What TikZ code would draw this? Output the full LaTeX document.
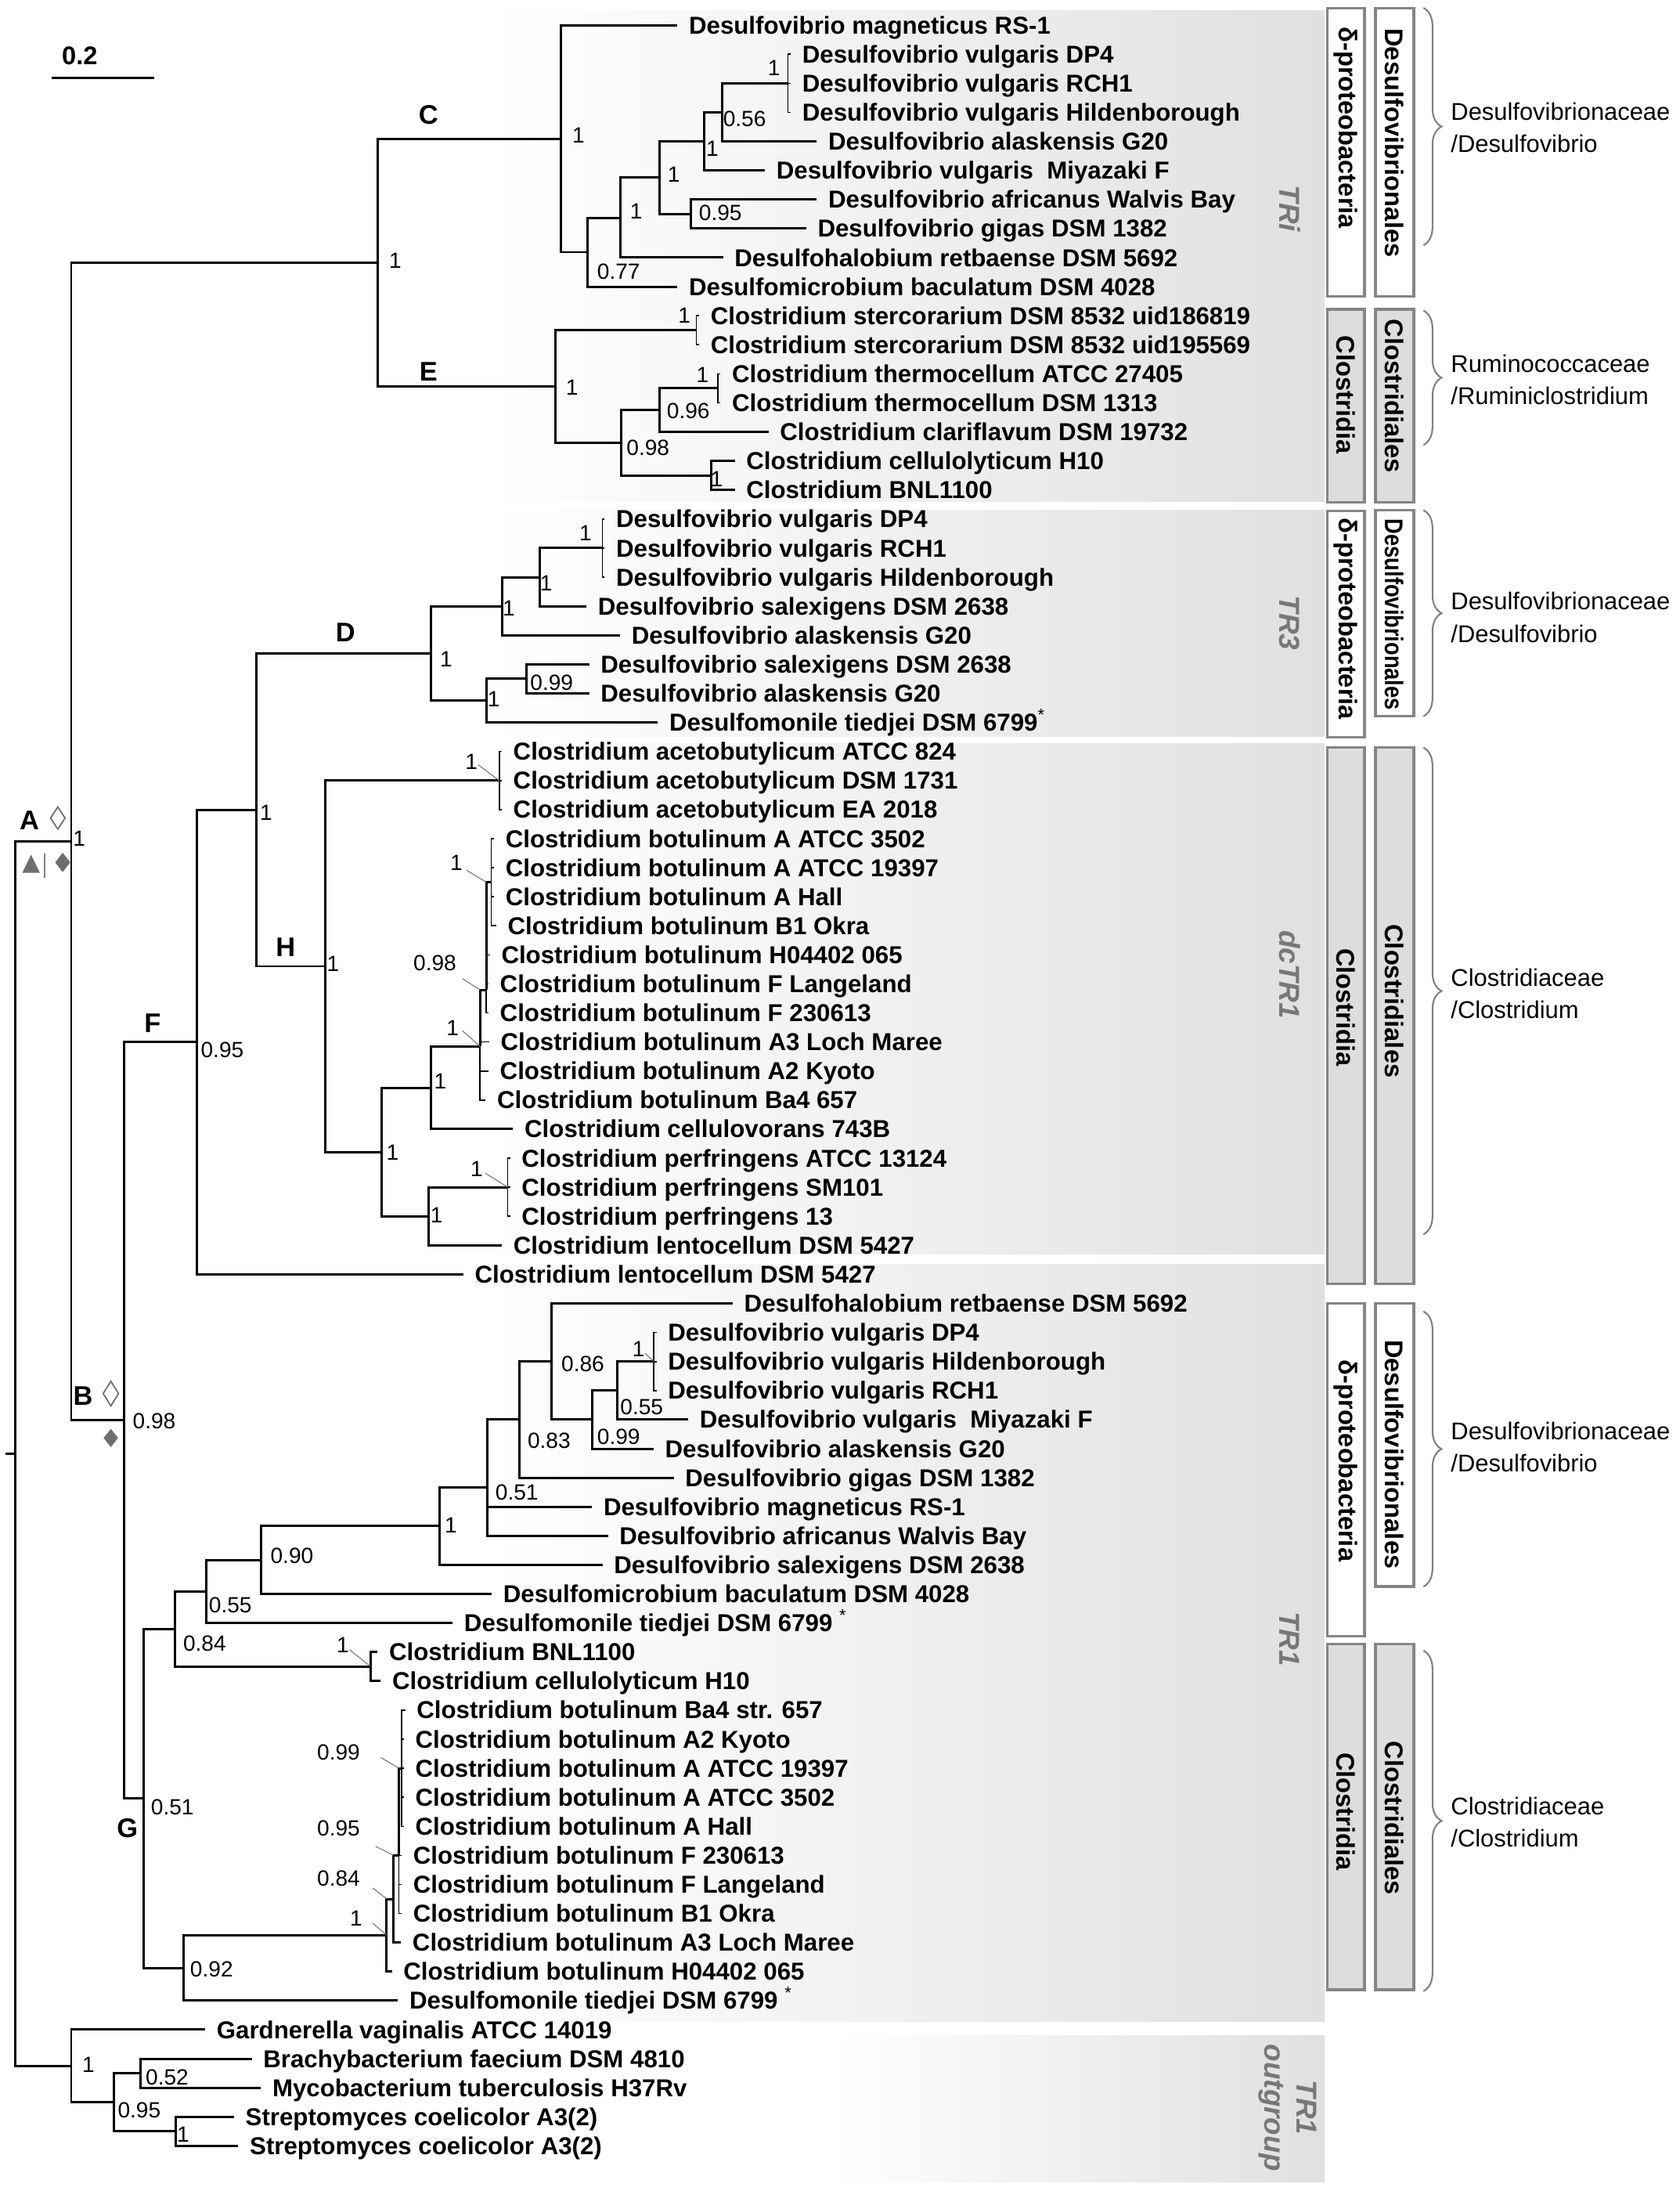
\documentclass[tikz,border=0pt]{standalone}
\usepackage{graphicx}
\usepackage{fontspec}
\setmainfont{Liberation Sans}
\usetikzlibrary{decorations.pathreplacing}
\definecolor{panelgray}{HTML}{E0E0E0}
\definecolor{boxgray}{HTML}{858585}
\definecolor{boxfill}{HTML}{DDDDDD}
\definecolor{trgray}{HTML}{777777}
\definecolor{markgray}{HTML}{6E6E6E}
\tikzset{
	leaf/.style={anchor=west, inner xsep=4pt, inner ysep=0pt, text height=6.3pt, text depth=0pt, font=\fontsize{8.9}{10}\selectfont\bfseries},
	supp/.style={inner sep=0pt, font=\fontsize{8}{9}\selectfont},
	clade/.style={inner sep=0pt, font=\fontsize{9.8}{11}\selectfont\bfseries},
	branch/.style={line width=0.85pt},
	twig/.style={line width=0.45pt},
	leader/.style={line width=0.3pt, draw=black!55},
	panel/.style={left color=white, right color=panelgray},
	trlabel/.style={rotate=-90, inner sep=0pt, text=trgray, align=center, font=\fontsize{10.5}{11.7}\selectfont\bfseries\itshape},
	taxbox/.style={draw=boxgray, line width=1pt},
	taxtext/.style={rotate=-90, inner sep=0pt, font=\fontsize{9.3}{11}\selectfont\bfseries},
	famtext/.style={anchor=west, inner sep=0pt, align=left, font=\fontsize{8.8}{11.7}\selectfont},
	grpbrace/.style={draw=gray, line width=0.6pt, decorate, decoration={brace, amplitude=6.6pt}}
}

\begin{document}
\begin{tikzpicture}[x=0.0179cm, y=-0.0179cm]
	\useasboundingbox (0,0) rectangle (1200.3,1565);
	
	% shaded panels
	\shade[panel] (350,7.5) rectangle (946.3,358);
	\shade[panel] (350,364.4) rectangle (946.3,526);
	\shade[panel] (350,531.2) rectangle (946.3,895.7);
	\shade[panel] (350,903.1) rectangle (946.3,1444);
	\shade[panel] (593,1453.9) rectangle (946.3,1558.3);
	
	\node[trlabel] (tTRi) at (921.5,149) {TRi};
	\node[trlabel] (tTR3) at (921.5,444.9) {TR3};
	\node[trlabel] (tdcTR1) at (921.5,696.2) {dcTR1};
	\node[trlabel] (tTR1) at (921.5,1170.6) {TR1};
	\node[trlabel] (tOut) at (920,1505.5) {TR1\\outgroup};
	
	% scale bar
	\coordinate (sbL) at (36.7,55.9);
	\coordinate (sbR) at (110.2,55.9);
	\draw[branch] (sbL) -- (sbR);
	\node[clade, font=\fontsize{9.3}{11}\selectfont\bfseries] (sbT) at (57,40) {0.2};
	
	% leaves
	\node[leaf] (l1) at (484,18) {Desulfovibrio magneticus RS-1};
	\node[leaf] (l2) at (565,38.75) {Desulfovibrio vulgaris DP4};
	\node[leaf] (l3) at (565,59.5) {Desulfovibrio vulgaris RCH1};
	\node[leaf] (l4) at (565,80.25) {Desulfovibrio vulgaris Hildenborough};
	\node[leaf] (l5) at (583.6,101) {Desulfovibrio alaskensis G20};
	\node[leaf] (l6) at (546.5,121.75) {Desulfovibrio vulgaris~ Miyazaki F};
	\node[leaf] (l7) at (583.6,142.5) {Desulfovibrio africanus Walvis Bay};
	\node[leaf] (l8) at (576,163.25) {Desulfovibrio gigas DSM 1382};
	\node[leaf] (l9) at (516.6,184) {Desulfohalobium retbaense DSM 5692};
	\node[leaf] (l10) at (484,204.75) {Desulfomicrobium baculatum DSM 4028};
	\node[leaf] (l11) at (499.5,225.5) {Clostridium stercorarium DSM 8532 uid186819};
	\node[leaf] (l12) at (499.5,246.25) {Clostridium stercorarium DSM 8532 uid195569};
	\node[leaf] (l13) at (514.8,267) {Clostridium thermocellum ATCC 27405};
	\node[leaf] (l14) at (514.8,287.75) {Clostridium thermocellum DSM 1313};
	\node[leaf] (l15) at (549,308.5) {Clostridium clariflavum DSM 19732};
	\node[leaf] (l16) at (525,329.25) {Clostridium cellulolyticum H10};
	\node[leaf] (l17) at (525,350) {Clostridium BNL1100};
	
	\node[leaf] (l18) at (432,370.75) {Desulfovibrio vulgaris DP4};
	\node[leaf] (l19) at (432,391.5) {Desulfovibrio vulgaris RCH1};
	\node[leaf] (l20) at (432,412.25) {Desulfovibrio vulgaris Hildenborough};
	\node[leaf] (l21) at (419,433) {Desulfovibrio salexigens DSM 2638};
	\node[leaf] (l22) at (443,453.75) {Desulfovibrio alaskensis G20};
	\node[leaf] (l23) at (421,474.5) {Desulfovibrio salexigens DSM 2638};
	\node[leaf] (l24) at (421,495.25) {Desulfovibrio alaskensis G20};
	\node[leaf] (l25) at (470,516) {Desulfomonile tiedjei DSM 6799\textsuperscript{\mdseries *}};
	
	\node[leaf] (l26) at (358.5,536.75) {Clostridium acetobutylicum ATCC 824};
	\node[leaf] (l27) at (358.5,557.5) {Clostridium acetobutylicum DSM 1731};
	\node[leaf] (l28) at (358.5,578.25) {Clostridium acetobutylicum EA 2018};
	\node[leaf] (l29) at (353,599) {Clostridium botulinum A ATCC 3502};
	\node[leaf] (l30) at (353,619.75) {Clostridium botulinum A ATCC 19397};
	\node[leaf] (l31) at (353,640.5) {Clostridium botulinum A Hall};
	\node[leaf] (l32) at (354.5,661.25) {Clostridium botulinum B1 Okra};
	\node[leaf] (l33) at (350,682) {Clostridium botulinum H04402 065};
	\node[leaf] (l34) at (349,702.75) {Clostridium botulinum F Langeland};
	\node[leaf] (l35) at (349,723.5) {Clostridium botulinum F 230613};
	\node[leaf] (l36) at (349.5,744.25) {Clostridium botulinum A3 Loch Maree};
	\node[leaf] (l37) at (349,765) {Clostridium botulinum A2 Kyoto};
	\node[leaf] (l38) at (347,785.75) {Clostridium botulinum Ba4 657};
	\node[leaf] (l39) at (366.6,806.5) {Clostridium cellulovorans 743B};
	\node[leaf] (l40) at (364.5,827.25) {Clostridium perfringens ATCC 13124};
	\node[leaf] (l41) at (364.5,848) {Clostridium perfringens SM101};
	\node[leaf] (l42) at (364.5,868.75) {Clostridium perfringens 13};
	\node[leaf] (l43) at (358.6,889.5) {Clostridium lentocellum DSM 5427};
	\node[leaf] (l44) at (331,910.25) {Clostridium lentocellum DSM 5427};
	
	\node[leaf] (l45) at (523.5,931) {Desulfohalobium retbaense DSM 5692};
	\node[leaf] (l46) at (469,951.75) {Desulfovibrio vulgaris DP4};
	\node[leaf] (l47) at (469,972.5) {Desulfovibrio vulgaris Hildenborough};
	\node[leaf] (l48) at (469,993.25) {Desulfovibrio vulgaris RCH1};
	\node[leaf] (l49) at (491.7,1014) {Desulfovibrio vulgaris~ Miyazaki F};
	\node[leaf] (l50) at (467,1034.75) {Desulfovibrio alaskensis G20};
	\node[leaf] (l51) at (481.4,1055.5) {Desulfovibrio gigas DSM 1382};
	\node[leaf] (l52) at (423,1076.25) {Desulfovibrio magneticus RS-1};
	\node[leaf] (l53) at (434.4,1097) {Desulfovibrio africanus Walvis Bay};
	\node[leaf] (l54) at (430.5,1117.75) {Desulfovibrio salexigens DSM 2638};
	\node[leaf] (l55) at (351.3,1138.5) {Desulfomicrobium baculatum DSM 4028};
	\node[leaf] (l56) at (323.4,1159.25) {Desulfomonile tiedjei DSM 6799 \textsuperscript{\mdseries *}};
	\node[leaf] (l57) at (269.8,1180) {Clostridium BNL1100};
	\node[leaf] (l58) at (272,1200.75) {Clostridium cellulolyticum H10};
	\node[leaf] (l59) at (289.5,1221.5) {Clostridium botulinum Ba4 str. 657};
	\node[leaf] (l60) at (288.5,1242.25) {Clostridium botulinum A2 Kyoto};
	\node[leaf] (l61) at (288.5,1263) {Clostridium botulinum A ATCC 19397};
	\node[leaf] (l62) at (288.5,1283.75) {Clostridium botulinum A ATCC 3502};
	\node[leaf] (l63) at (288.5,1304.5) {Clostridium botulinum A Hall};
	\node[leaf] (l64) at (287,1325.25) {Clostridium botulinum F 230613};
	\node[leaf] (l65) at (287,1346) {Clostridium botulinum F Langeland};
	\node[leaf] (l66) at (287,1366.75) {Clostridium botulinum B1 Okra};
	\node[leaf] (l67) at (286.5,1387.5) {Clostridium botulinum A3 Loch Maree};
	\node[leaf] (l68) at (280,1408.25) {Clostridium botulinum H04402 065};
	\node[leaf] (l69) at (284.3,1429) {Desulfomonile tiedjei DSM 6799 \textsuperscript{\mdseries *}};
	
	\node[leaf] (l70) at (146.6,1449.75) {Gardnerella vaginalis ATCC 14019};
	\node[leaf] (l71) at (179.9,1470.5) {Brachybacterium faecium DSM 4810};
	\node[leaf] (l72) at (186.4,1491.25) {Mycobacterium tuberculosis H37Rv};
	\node[leaf] (l73) at (167.2,1512) {Streptomyces coelicolor A3(2)};
	\node[leaf] (l74) at (170.3,1532.75) {Streptomyces coelicolor A3(2)};
	
	% internal nodes
	\coordinate (nRoot) at (10.7,1038.4);
	\coordinate (rootStub) at (3.8,1038.4);
	\coordinate (nA) at (50.9,601.05);
	\coordinate (nB) at (88.8,1014.5);
	\coordinate (nCE) at (270,187.6);
	\coordinate (nC) at (401,99.05);
	\coordinate (n77) at (420,180.1);
	\coordinate (n1c) at (443,155.5);
	\coordinate (n1b) at (471.5,126.95);
	\coordinate (n95) at (493.7,152.9);
	\coordinate (n1a) at (503,101);
	\coordinate (n56) at (516,80.25);
	\coordinate (nP) at (563,59.5);
	\coordinate (nE) at (397,276.1);
	\coordinate (nS) at (497.5,235.9);
	\coordinate (n98a) at (444,316.25);
	\coordinate (n96) at (471.5,292.9);
	\coordinate (nT) at (512.8,277.4);
	\coordinate (nCe) at (508,339.6);
	
	\coordinate (nF) at (140.4,744.35);
	\coordinate (nDH) at (183,578.45);
	\coordinate (nD) at (308,466.7);
	\coordinate (nV3c) at (359,433);
	\coordinate (nV3b) at (385.7,412.25);
	\coordinate (nV3) at (430.5,391.5);
	\coordinate (nM3) at (347.5,500.45);
	\coordinate (n99b) at (376,484.9);
	\coordinate (nH) at (232.3,690.2);
	\coordinate (nAc) at (356.7,557.5);
	\coordinate (nCl) at (272.5,822.85);
	\coordinate (nCv) at (308,776.95);
	\coordinate (nBo) at (343,747.4);
	\coordinate (n98c) at (347.5,707);
	\coordinate (nB1) at (351,630.1);
	\coordinate (nLe) at (306,868.75);
	\coordinate (nPf) at (362.8,848);
	
	\coordinate (nG) at (102.6,1284.6);
	\coordinate (n84) at (124.8,1163.6);
	\coordinate (n55b) at (147.3,1136.8);
	\coordinate (n90) at (186.4,1114.3);
	\coordinate (n1d) at (313.8,1090.1);
	\coordinate (n51) at (348.2,1062.4);
	\coordinate (n83) at (371.2,1014);
	\coordinate (n86) at (394,972.5);
	\coordinate (n99c) at (423,1014);
	\coordinate (n55) at (441,993.25);
	\coordinate (nV1) at (467,972.5);
	\coordinate (nBN) at (264.8,1190.4);
	\coordinate (n92) at (131.3,1405.65);
	\coordinate (n1e) at (276.3,1382.3);
	\coordinate (n84b) at (281.3,1356.4);
	\coordinate (n95b) at (285,1325.3);
	\coordinate (n99d) at (287,1263);
	
	\coordinate (nOut) at (50.9,1475.7);
	\coordinate (n95c) at (81.5,1501.65);
	\coordinate (n52) at (100.3,1480.9);
	\coordinate (nSt) at (125.5,1522.4);
	
	% branches
	\draw[branch] (nRoot) -- (rootStub) (nRoot) |- (nA) (nRoot) |- (nOut);
	\draw[branch] (nA) |- (nCE) (nA) |- (nB);
	
	\draw[branch] (nCE) |- (nC) (nCE) |- (nE);
	\draw[branch] (nC) |- (l1.west) (nC) |- (n77);
	\draw[branch] (n77) |- (n1c) (n77) |- (l10.west);
	\draw[branch] (n1c) |- (n1b) (n1c) |- (l9.west);
	\draw[branch] (n1b) |- (n1a) (n1b) |- (n95);
	\draw[branch] (n95) |- (l7.west) (n95) |- (l8.west);
	\draw[branch] (n1a) |- (n56) (n1a) |- (l6.west);
	\draw[branch] (n56) |- (nP) (n56) |- (l5.west);
	\draw[twig] (nP) |- (l2.west) (nP) |- (l3.west) (nP) |- (l4.west);
	
	\draw[branch] (nE) |- (nS) (nE) |- (n98a);
	\draw[twig] (nS) |- (l11.west) (nS) |- (l12.west);
	\draw[branch] (n98a) |- (n96) (n98a) |- (nCe);
	\draw[branch] (n96) |- (nT) (n96) |- (l15.west);
	\draw[twig] (nT) |- (l13.west) (nT) |- (l14.west);
	\draw[branch] (nCe) |- (l16.west) (nCe) |- (l17.west);
	
	\draw[branch] (nB) |- (nF) (nB) |- (nG);
	\draw[branch] (nF) |- (nDH) (nF) |- (l44.west);
	\draw[branch] (nDH) |- (nD) (nDH) |- (nH);
	
	\draw[branch] (nD) |- (nV3c) (nD) |- (nM3);
	\draw[branch] (nV3c) |- (nV3b) (nV3c) |- (l22.west);
	\draw[branch] (nV3b) |- (nV3) (nV3b) |- (l21.west);
	\draw[twig] (nV3) |- (l18.west) (nV3) |- (l19.west) (nV3) |- (l20.west);
	\draw[branch] (nM3) |- (n99b) (nM3) |- (l25.west);
	\draw[branch] (n99b) |- (l23.west) (n99b) |- (l24.west);
	
	\draw[branch] (nH) |- (nAc) (nH) |- (nCl);
	\draw[twig] (nAc) |- (l26.west) (nAc) |- (l27.west) (nAc) |- (l28.west);
	\draw[branch] (nCl) |- (nCv) (nCl) |- (nLe);
	\draw[branch] (nCv) |- (nBo) (nCv) |- (l39.west);
	\draw[branch] (nBo) |- (n98c);
	\draw[twig] (nBo) |- (l36.west) (nBo) |- (l37.west) (nBo) |- (l38.west);
	\draw[branch] (n98c) |- (nB1);
	\draw[twig] (n98c) |- (l33.west) (n98c) |- (l34.west) (n98c) |- (l35.west);
	\draw[twig] (nB1) |- (l29.west) (nB1) |- (l30.west) (nB1) |- (l31.west) (nB1) |- (l32.west);
	\draw[branch] (nLe) |- (nPf) (nLe) |- (l43.west);
	\draw[twig] (nPf) |- (l40.west) (nPf) |- (l41.west) (nPf) |- (l42.west);
	
	\draw[branch] (nG) |- (n84) (nG) |- (n92);
	\draw[branch] (n84) |- (n55b) (n84) |- (nBN);
	\draw[branch] (nBN) |- (l57.west) (nBN) |- (l58.west);
	\draw[branch] (n55b) |- (n90) (n55b) |- (l56.west);
	\draw[branch] (n90) |- (n1d) (n90) |- (l55.west);
	\draw[branch] (n1d) |- (n51) (n1d) |- (l54.west);
	\draw[branch] (n51) |- (n83) (n51) |- (l52.west) (n51) |- (l53.west);
	\draw[branch] (n83) |- (n86) (n83) |- (l51.west);
	\draw[branch] (n86) |- (l45.west) (n86) |- (n99c);
	\draw[branch] (n99c) |- (n55) (n99c) |- (l50.west);
	\draw[branch] (n55) |- (nV1) (n55) |- (l49.west);
	\draw[twig] (nV1) |- (l46.west) (nV1) |- (l47.west) (nV1) |- (l48.west);
	\draw[branch] (n92) |- (n1e) (n92) |- (l69.west);
	\draw[branch] (n1e) |- (n84b) (n1e) |- (l68.west);
	\draw[branch] (n84b) |- (n95b) (n84b) |- (l67.west);
	\draw[branch] (n95b) |- (n99d);
	\draw[twig] (n95b) |- (l64.west) (n95b) |- (l65.west) (n95b) |- (l66.west);
	\draw[twig] (n99d) |- (l59.west) (n99d) |- (l60.west) (n99d) |- (l61.west) (n99d) |- (l62.west) (n99d) |- (l63.west);
	
	\draw[branch] (nOut) |- (l70.west) (nOut) |- (n95c);
	\draw[branch] (n95c) |- (n52) (n95c) |- (nSt);
	\draw[branch] (n52) |- (l71.west) (n52) |- (l72.west);
	\draw[branch] (nSt) |- (l73.west) (nSt) |- (l74.west);
	
	% clade letters and marks
	\node[clade] (cA) at (21,586.2) {A};
	\node[clade] (cB) at (59.3,997.3) {B};
	\node[clade] (cC) at (306.1,82) {C};
	\node[clade] (cD) at (246.8,452) {D};
	\node[clade] (cE) at (306.1,265.6) {E};
	\node[clade] (cF) at (109,730.6) {F};
	\node[clade] (cG) at (91.1,1305.7) {G};
	\node[clade] (cH) at (204,676.6) {H};
	
	\draw[markgray, fill=white, line width=0.5pt] (41.3,576.4) -- (46.5,584.3) -- (41.3,592.2) -- (36.1,584.3) -- cycle;
	\fill[markgray] (15.9,623.5) -- (28.5,623.5) -- (22.2,610.5) -- cycle;
	\draw[gray, line width=0.4pt] (31.8,609.5) -- (31.8,627.2);
	\fill[markgray] (44.8,609.1) -- (50.15,616) -- (44.8,622.9) -- (39.45,616) -- cycle;
	\draw[markgray, fill=white, line width=0.5pt] (79.2,986.6) -- (84.7,995.4) -- (79.2,1004.2) -- (73.7,995.4) -- cycle;
	\fill[markgray] (79.2,1020.6) -- (84.35,1027.1) -- (79.2,1033.6) -- (74.05,1027.1) -- cycle;
	
	% support values
	\node[supp] (sC) at (413.3,96.9) {1};
	\node[supp] (sCE) at (282.4,186.4) {1};
	\node[supp] (s77) at (442,193.9) {0.77};
	\node[supp] (s1c) at (454.6,151) {1};
	\node[supp] (s1b) at (481.4,124.9) {1};
	\node[supp] (s95) at (514.7,151.9) {0.95};
	\node[supp] (s1a) at (509,106.2) {1};
	\node[supp] (s56) at (532,84.8) {0.56};
	\node[supp] (sP) at (553,48.8) {1};
	\node[supp] (sS) at (489,225.5) {1};
	\node[supp] (sE) at (408.7,276.8) {1};
	\node[supp] (s98a) at (463,319.7) {0.98};
	\node[supp] (s96) at (491.8,293.6) {0.96};
	\node[supp] (sT) at (502,268) {1};
	\node[supp] (sCe) at (512,342) {1};
	
	\node[supp] (sD) at (318.8,470.6) {1};
	\node[supp] (sV3c) at (363.5,434.3) {1};
	\node[supp] (sV3b) at (390.3,416.6) {1};
	\node[supp] (sV3) at (418.3,380.6) {1};
	\node[supp] (sM3) at (352.8,499.5) {1};
	\node[supp] (s99b) at (394.2,487.4) {0.99};
	
	\node[supp] (sA) at (56.6,599.2) {1};
	\node[supp] (sDH) at (190.2,580.6) {1};
	\node[supp] (sH) at (238,688.7) {1};
	\node[supp] (sF) at (158.8,750.2) {0.95};
	\node[supp] (sAc) at (336.8,544.2) {1};
	\node[supp] (sB1) at (326,616) {1};
	\node[supp] (s98c) at (310.7,687.8) {0.98};
	\node[supp] (sBo) at (323.4,734.4) {1};
	\node[supp] (sCv) at (314.6,772.6) {1};
	\node[supp] (sCl) at (280.5,823) {1};
	\node[supp] (sLe) at (311.9,867.7) {1};
	\node[supp] (sPf) at (340.6,835.1) {1};
	
	\node[supp] (sB) at (110.2,1015) {0.98};
	\node[supp] (s86) at (416.4,974) {0.86};
	\node[supp] (sV1) at (456.2,963.7) {1};
	\node[supp] (s55) at (458.5,1005.1) {0.55};
	\node[supp] (s99c) at (442,1026.2) {0.99};
	\node[supp] (s83) at (392.3,1029) {0.83};
	\node[supp] (s51) at (369.3,1066.2) {0.51};
	\node[supp] (s1d) at (322.2,1089.5) {1};
	\node[supp] (s90) at (208.6,1111) {0.90};
	\node[supp] (s55b) at (164.6,1146.4) {0.55};
	\node[supp] (s84) at (146.2,1174) {0.84};
	\node[supp] (sBN) at (244.9,1175.3) {1};
	\node[supp] (s99d) at (241.9,1251.7) {0.99};
	\node[supp] (s95b) at (241.9,1305.7) {0.95};
	\node[supp] (s84b) at (241.9,1341.7) {0.84};
	\node[supp] (s1e) at (254.5,1370) {1};
	\node[supp] (s92) at (151.2,1406.4) {0.92};
	\node[supp] (sG) at (123.2,1290.8) {0.51};
	
	\node[supp] (sOut) at (63.1,1474.8) {1};
	\node[supp] (s52) at (119.4,1483.7) {0.52};
	\node[supp] (s95c) at (99.5,1507) {0.95};
	\node[supp] (sSt) at (130.9,1524.8) {1};
	
	% leader lines
	\draw[leader] ([shift={(0,2)}]sAc.east) -- (nAc);
	\draw[leader] ([shift={(2.6,5.6)}]sB1.east) -- (n98c |- nB1);
	\draw[leader] ([shift={(4,11.2)}]s98c.east) -- (nBo |- n98c);
	\draw[leader] ([shift={(2.2,1.8)}]sBo.east) -- (nBo);
	\draw[leader] ([shift={(1.3,2.8)}]sPf.east) -- (nPf);
	\draw[leader] ([shift={(0,3)}]sV1.east) -- (nV1);
	\draw[leader] ([shift={(0,3)}]sBN.east) -- (nBN);
	\draw[leader] ([shift={(14.5,3.7)}]s99d.east) -- (n95b |- n99d);
	\draw[leader] ([shift={(10.7,13.1)}]s95b.east) -- (n84b |- n95b);
	\draw[leader] ([shift={(8.8,6.9)}]s84b.east) -- (n1e |- n84b);
	\draw[leader] ([shift={(7.1,3.7)}]s1e.east) -- (n1e);
	
	% class and order boxes
	\draw[taxbox, fill=white] (948.2,6) rectangle (975,211.6);
	\draw[taxbox, fill=white] (982.7,6) rectangle (1010.2,211.6);
	\draw[taxbox, fill=boxfill] (948.2,221) rectangle (975,358.8);
	\draw[taxbox, fill=boxfill] (982.7,221) rectangle (1010.2,358.8);
	\draw[taxbox, fill=white] (948.2,365) rectangle (975,526.5);
	\draw[taxbox, fill=white] (982.7,364.4) rectangle (1010.2,511.6);
	\draw[taxbox, fill=boxfill] (948.2,534) rectangle (975,917);
	\draw[taxbox, fill=boxfill] (982.7,534) rectangle (1010.2,917);
	\draw[taxbox, fill=white] (948.2,931) rectangle (975,1168.7);
	\draw[taxbox, fill=white] (982.7,931) rectangle (1010.2,1133.3);
	\draw[taxbox, fill=boxfill] (948.2,1174.3) rectangle (975,1421.3);
	\draw[taxbox, fill=boxfill] (982.7,1174.3) rectangle (1010.2,1421.3);
	
	\node[taxtext] (kDp1) at (961.6,91.3) {δ-proteobacteria};
	\node[taxtext] (kDv1) at (996.5,102) {Desulfovibrionales};
	\node[taxtext] (kCl1) at (961.6,282) {Clostridia};
	\node[taxtext] (kCs1) at (996.5,283) {Clostridiales};
	\node[taxtext] (kDp3) at (961.6,442) {δ-proteobacteria};
	\node[taxtext] (kDv3) at (996.5,439) {\scalebox{0.835}[1]{Desulfovibrionales}};
	\node[taxtext] (kCl2) at (961.6,719.5) {Clostridia};
	\node[taxtext] (kCs2) at (996.5,715) {Clostridiales};
	\node[taxtext] (kDp2) at (961.6,1043.4) {δ-proteobacteria};
	\node[taxtext] (kDv2) at (996.5,1038.8) {Desulfovibrionales};
	\node[taxtext] (kCl3) at (961.6,1294) {Clostridia};
	\node[taxtext] (kCs3) at (996.5,1298.7) {Clostridiales};
	
	% family braces
	\draw[grpbrace] (1017,5.6) -- (1017,175.2);
	\draw[grpbrace] (1017,221.8) -- (1017,317.8);
	\draw[grpbrace] (1017,364.4) -- (1017,511.6);
	\draw[grpbrace] (1017,534) -- (1017,881.7);
	\draw[grpbrace] (1017,936.7) -- (1017,1133.3);
	\draw[grpbrace] (1017,1179) -- (1017,1422.2);
	
	\node[famtext] (fDv1) at (1036.3,91.3) {Desulfovibrionaceae\\/Desulfovibrio};
	\node[famtext] (fRu) at (1036.3,271.2) {Ruminococcaceae\\/Ruminiclostridium};
	\node[famtext] (fDv3) at (1036.3,441) {Desulfovibrionaceae\\/Desulfovibrio};
	\node[famtext] (fCl1) at (1036.3,709.7) {Clostridiaceae\\/Clostridium};
	\node[famtext] (fDv2) at (1036.3,1033.6) {Desulfovibrionaceae\\/Desulfovibrio};
	\node[famtext] (fCl2) at (1036.3,1301.5) {Clostridiaceae\\/Clostridium};
\end{tikzpicture}
\end{document}
